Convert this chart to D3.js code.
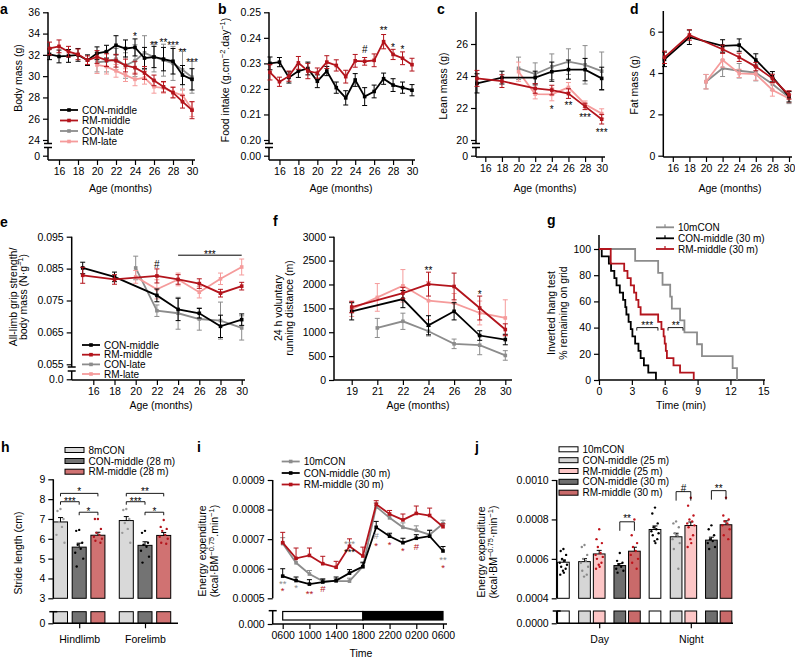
<!DOCTYPE html>
<html><head><meta charset="utf-8">
<script src="https://cdn.jsdelivr.net/npm/d3@7"></script>
<style>
body{margin:0;background:#fff;}
svg text{font-family:"Liberation Sans",Arial,Helvetica,sans-serif;fill:#000;}
</style></head><body>
<script>
// ================= DATA =================
// panel a – body mass (g)
const aMonthsMid = [15,16,17,18,19,20,21,22,23,24,25,26,27,28,29,30];
const aMonthsLate = [20,21,22,23,24,25,26,27,28,29,30];
const aConMid    = [32.05,31.85,31.9,32.0,31.5,32.15,32.3,32.9,32.6,32.7,31.7,31.8,31.6,31.4,30.1,29.7];
const aConMidErr = [0.5,0.6,0.6,0.6,0.5,0.6,0.6,0.9,0.8,0.8,1.0,1.0,1.1,1.2,0.9,1.0];
const aRmMid     = [32.6,32.8,32.3,32.05,31.5,31.8,31.5,31.45,31.0,30.8,30.3,29.6,29.0,28.45,27.6,26.8];
const aRmMidErr  = [0.6,0.6,0.5,0.5,0.4,0.6,0.6,0.6,0.6,0.6,0.6,0.5,0.5,0.5,0.6,0.8];
const aConLate   = [31.3,31.4,31.6,31.0,31.45,32.2,31.8,31.5,31.2,30.6,29.9];
const aConLateErr= [0.9,1.0,1.0,1.2,1.5,1.6,1.4,1.5,1.6,1.9,1.5];
const aRmLate    = [31.05,30.9,30.5,30.1,29.7,29.85,29.0,28.9,28.5,28.2,26.9];
const aRmLateErr = [0.8,0.7,0.6,0.6,0.6,0.6,0.6,0.5,0.5,0.6,0.7];
const aTicksY = [24,26,28,30,32,34,36];
const ageTicks = [16,18,20,22,24,26,28,30];
const aStars = [{m:24,v:34.0,s:"*"},{m:26,v:33.15,s:"**"},{m:27,v:33.4,s:"**"},{m:28,v:33.15,s:"***"},{m:29,v:32.45,s:"**"},{m:30,v:31.5,s:"***"}];
const legendLines = ["CON-middle","RM-middle","CON-late","RM-late"];

// panel b – food intake
const bMonths = [15,16,17,18,19,20,21,22,23,24,25,26,27,28,29,30];
const bConMid    = [0.2300,0.2305,0.2245,0.2270,0.2280,0.2230,0.2270,0.2205,0.2165,0.2235,0.2170,0.2190,0.2240,0.2215,0.2205,0.2195];
const bConMidErr = [0.0025,0.0018,0.0022,0.0025,0.0025,0.0025,0.0018,0.0022,0.0028,0.0025,0.0035,0.0025,0.0022,0.0025,0.0022,0.0022];
const bRmMid     = [0.2265,0.2228,0.2250,0.2302,0.2270,0.2262,0.2305,0.2292,0.2248,0.2310,0.2308,0.2312,0.2385,0.2335,0.2320,0.2295];
const bRmMidErr  = [0.0030,0.0018,0.0020,0.0025,0.0030,0.0020,0.0025,0.0022,0.0025,0.0025,0.0015,0.0025,0.0028,0.0020,0.0025,0.0025];
const bTicksY = [0.20,0.21,0.22,0.23,0.24,0.25];
const bStars = [{m:25,v:0.2355,s:"#"},{m:27,v:0.2437,s:"**"},{m:28,v:0.2372,s:"*"},{m:29,v:0.2365,s:"*"}];

// panel c – lean mass
const cMonthsMid = [15,18,22,24,26,28,30];
const cMonthsLate = [20,22,24,26,28,30];
const cConMid = [23.54,23.9,23.9,24.27,24.4,24.4,23.85];
const cConMidErr = [0.6,0.4,0.4,0.6,0.6,0.7,0.7];
const cRmMid = [23.85,23.68,23.22,23.12,22.9,22.1,21.3];
const cRmMidErr = [0.5,0.4,0.3,0.3,0.3,0.2,0.3];
const cConLate = [24.48,24.12,24.58,24.9,24.7,24.3];
const cConLateErr = [0.7,0.7,0.8,0.8,1.2,1.2];
const cRmLate = [24.27,22.87,22.85,23.29,22.24,21.65];
const cRmLateErr = [0.6,0.3,0.4,0.3,0.2,0.3];
const cTicksY = [20,22,24,26];
const cStars = [{m:24,v:22.08,s:"*"},{m:26,v:22.33,s:"**"},{m:28,v:21.56,s:"***"},{m:30,v:20.6,s:"***"}];

// panel d – fat mass
const dMonthsMid = [15,18,22,24,26,28,30];
const dMonthsLate = [20,22,24,26,28,30];
const dConMid = [4.66,5.73,5.31,5.35,4.63,3.82,2.85];
const dConMidErr = [0.35,0.35,0.3,0.3,0.3,0.25,0.25];
const dRmMid = [4.76,5.84,5.15,4.76,4.31,3.74,2.94];
const dRmMidErr = [0.3,0.25,0.2,0.2,0.2,0.2,0.2];
const dConLate = [3.58,4.23,4.11,4.02,3.47,2.82];
const dConLateErr = [0.35,0.4,0.35,0.4,0.3,0.3];
const dRmLate = [3.58,4.63,3.98,3.95,3.18,2.77];
const dRmLateErr = [0.35,0.35,0.2,0.3,0.3,0.2];
const dTicksY = [0,2,4,6];

// panel e – grip strength
const eMonthsMid = [15,18,22,24,26,28,30];
const eMonthsLate = [20,22,24,26,28,30];
const eConMid = [0.0852,0.0824,0.0766,0.0722,0.0710,0.0669,0.0690];
const eConMidErr = [0.0018,0.0015,0.0020,0.0035,0.0015,0.0035,0.0018];
const eRmMid = [0.0829,0.0816,0.0827,0.0816,0.0803,0.0773,0.0795];
const eRmMidErr = [0.0025,0.0015,0.0022,0.0015,0.0015,0.0012,0.0012];
const eConLate = [0.0852,0.0718,0.0710,0.0692,0.0687,0.0664];
const eConLateErr = [0.0037,0.0018,0.0050,0.0035,0.0058,0.0038];
const eRmLate = [0.0824,0.0785,0.0816,0.0776,0.0818,0.0855];
const eRmLateErr = [0.0020,0.0030,0.0020,0.0018,0.0018,0.0025];
const eTicksY = [0.055,0.065,0.075,0.085,0.095];

// panel f – running distance
const fCats = ["19","21","22","24","26","28","30"];
const fRmMidX = ["19","22","24","26","28","30"];
const fRmMid = [1528,1819,2007,1958,1507,1056];
const fRmMidErr = [120,120,250,280,250,120];
const fConMidX = ["19","22","24","26","28","30"];
const fConMid = [1438,1694,1146,1438,931,847];
const fConMidErr = [180,180,200,180,100,110];
const fConLateX = ["21","22","24","26","28","30"];
const fConLate = [1090,1229,1021,757,729,514];
const fConLateErr = [200,170,100,100,200,100];
const fRmLateX = ["19","21","22","24","26","28","30"];
const fRmLate = [1480,1729,1972,1660,1611,1403,1299];
const fRmLateErr = [150,290,340,400,200,250,380];
const fTicksY = [0,500,1000,1500,2000,2500,3000];
const fStars = [{c:"24",v:2340,s:"**"},{c:"28",v:1840,s:"*"}];

// panel g – inverted hang test (time of each fall, min)
const gYoungFalls = [3.3,5.4,5.8,6.5,6.65,7.4,7.8,8.95,9.4,12.2,12.6];
const gConMidFalls = [0.25,0.9,1.1,1.4,1.6,1.9,2.2,2.4,2.5,2.7,2.9,3.05,3.3,3.6,3.8,4.1,4.5,5.2];
const gRmMidFalls = [1.07,1.07,2.3,2.6,2.9,3.2,3.4,3.6,3.8,5.4,5.7,5.9,6.0,6.1,6.2,6.8,7.4,8.65];
const gTicksX = [0,3,6,9,12,15];
const gTicksY = [0,20,40,60,80,100];
const gLegend = ["10mCON","CON-middle (30 m)","RM-middle (30 m)"];

// panel h – stride length (cm)
const hGroups = ["Hindlimb","Forelimb"];
const hSeries = ["8mCON","CON-middle (28 m)","RM-middle (28 m)"];
const hMeans = [[6.85,5.58,6.18],[6.92,5.67,6.17]];
const hErr = [[0.22,0.2,0.15],[0.2,0.18,0.15]];
const hDots = [
  [[7.5,7.4,7.0,6.85,6.6,6.2,5.8],[6.45,6.4,5.8,5.7,5.5,5.3,5.0,4.6],[7.0,7.0,6.5,6.3,6.2,6.1,6.0,5.9,5.8]],
  [[7.5,7.45,7.0,6.8,6.5,6.3,5.8],[6.4,6.3,5.8,5.7,5.6,5.4,5.1,4.8],[6.95,6.6,6.5,6.4,6.2,6.1,6.0,5.8,5.75]]
];
const hTicksY = [3,4,5,6,7,8,9];

// panel i – energy expenditure over 24 h
const iHours = [0,2,4,6,8,10,12,14,16,18,20,22,24];
const iTickHours = [0,4,8,12,16,20,24];
const iTickLabels = ["0600","1000","1400","1800","2200","0200","0600"];
const iYoung  = [0.000685,0.000620,0.000582,0.000558,0.000558,0.000558,0.000607,0.000810,0.000772,0.000740,0.000730,0.000715,0.000752];
const iYoungErr=[0.000020,0.000015,0.000012,0.000008,0.000008,0.000010,0.000012,0.000012,0.000010,0.000015,0.000015,0.000015,0.000012];
const iConMid = [0.000575,0.000560,0.000548,0.000555,0.000560,0.000585,0.000607,0.000740,0.000710,0.000688,0.000703,0.000710,0.000660];
const iConMidErr=[0.000025,0.000012,0.000015,0.000010,0.000012,0.000012,0.000015,0.000020,0.000010,0.000015,0.000012,0.000020,0.000015];
const iRmMid  = [0.000688,0.000635,0.000645,0.000617,0.000605,0.000676,0.000643,0.000818,0.000785,0.000765,0.000787,0.000780,0.000742];
const iRmMidErr=[0.000035,0.000035,0.000025,0.000025,0.000020,0.000025,0.000030,0.000012,0.000012,0.000020,0.000025,0.000025,0.000010];
const iStars = [
  {h:0,v:0.000558,s:"**",c:"gray"},{h:0,v:0.000536,s:"*",c:"red"},{h:2,v:0.000545,s:"*",c:"gray"},
  {h:4,v:0.000526,s:"**",c:"red"},{h:6,v:0.000534,s:"#",c:"red"},
  {h:10,v:0.000695,s:"***",c:"gray"},{h:10,v:0.000668,s:"***",c:"black"},
  {h:14,v:0.000714,s:"#",c:"gray"},{h:14,v:0.000688,s:"*",c:"red"},{h:16,v:0.000692,s:"*",c:"red"},
  {h:18,v:0.000669,s:"*",c:"red"},{h:20,v:0.000677,s:"#",c:"red"},
  {h:24,v:0.000638,s:"**",c:"gray"},{h:24,v:0.000614,s:"*",c:"red"}];

// panel j – day / night energy expenditure
const jGroups = ["Day","Night"];
const jSeries = ["10mCON","CON-middle (25 m)","RM-middle (25 m)","CON-middle (30 m)","RM-middle (30 m)"];
const jMeans = [[0.000583,0.000586,0.000625,0.000566,0.000639],[0.000749,0.000712,0.000769,0.000695,0.000773]];
const jErr = [[0.000012,0.000015,0.000018,0.000010,0.000020],[0.000018,0.000018,0.000018,0.000015,0.000020]];
const jDots = [
  [[0.00065,0.00064,0.00062,0.0006,0.00059,0.00058,0.00057,0.00056,0.00055,0.00054,0.00053,0.00052],
   [0.00067,0.00066,0.00062,0.0006,0.00059,0.00058,0.00056,0.00054,0.00052,0.00051],
   [0.00075,0.0007,0.00068,0.00066,0.00063,0.00062,0.00061,0.0006,0.00058,0.00057,0.00056,0.00055],
   [0.00063,0.00059,0.00058,0.00057,0.00056,0.00055,0.00054,0.00053],
   [0.0008,0.00072,0.00068,0.00066,0.00064,0.00062,0.0006,0.00058,0.00055]],
  [[0.00086,0.00083,0.00078,0.00076,0.00075,0.00074,0.00073,0.00072,0.0007,0.00069,0.00068],
   [0.00079,0.00078,0.00076,0.00073,0.00072,0.0007,0.00068,0.00065,0.00055],
   [0.00091,0.00087,0.00082,0.0008,0.00079,0.00078,0.00077,0.00076,0.00072,0.0007,0.00068,0.00066],
   [0.00077,0.00075,0.00072,0.0007,0.00069,0.00068,0.00066,0.00065],
   [0.00091,0.00082,0.0008,0.00079,0.00078,0.00077,0.00075,0.00072,0.0007]]
];
const jTicksY = [0.0004,0.0006,0.0008,0.0010];

// ================= STYLE / HELPERS =================
const COL = {black:"#000000", red:"#b3141c", gray:"#8c8c8c", pink:"#f59b9b"};
const TFS = 10.5;
const svg = d3.select("body").append("svg").attr("width",795).attr("height",658).style("display","block");

function styleAxis(g){
  g.select(".domain").remove();
  g.selectAll(".tick line").attr("stroke","#000").attr("stroke-width",1.2);
  g.selectAll(".tick text").attr("font-size",TFS);
}
function ln(x1,y1,x2,y2,col="#000",w=1.5){
  return svg.append("line").attr("x1",x1).attr("y1",y1).attr("x2",x2).attr("y2",y2).attr("stroke",col).attr("stroke-width",w);
}
function yAxis(x, scale, ticks, fmt){
  const g = svg.append("g").attr("transform",`translate(${x},0)`)
    .call(d3.axisLeft(scale).tickValues(ticks).tickFormat(fmt).tickSize(5).tickPadding(3));
  styleAxis(g); return g;
}
function xAxis(y, scale, ticks, fmt){
  const g = svg.append("g").attr("transform",`translate(0,${y})`)
    .call(d3.axisBottom(scale).tickValues(ticks).tickFormat(fmt).tickSize(5).tickPadding(3));
  styleAxis(g); return g;
}
function label(x,y,s){ svg.append("text").attr("x",x).attr("y",y).attr("font-size",14).attr("font-weight","bold").text(s); }
function text(x,y,s,fs=TFS,anchor="middle",col="#000"){
  return svg.append("text").attr("x",x).attr("y",y).attr("font-size",fs).attr("text-anchor",anchor).style("fill",col).text(s);
}
// rich text: parts = [[str, "sup"?],...]
function rich(t, parts){
  let shifted=false;
  parts.forEach(p=>{
    const ts=t.append("tspan").text(p[0]);
    if(p[1]==="sup"){ ts.attr("dy",-4).attr("font-size",7.5); shifted=true; }
    else if(shifted){ ts.attr("dy",4); shifted=false; }
  });
}
function yTitle(xc, yc, lines, fs=TFS){
  lines.forEach((parts,i)=>{
    const xx = xc[i] + fs*0.35;
    const t = svg.append("text").attr("transform",`translate(${xx},${yc}) rotate(-90)`)
      .attr("text-anchor","middle").attr("font-size",fs);
    rich(t, typeof parts==="string" ? [[parts]] : parts);
  });
}
function star(x, yc, s, col="#000", fs=10){
  const off = s.startsWith("#") ? 3.6 : 6;
  text(x, yc+off, s, fs, "middle", col);
}
function series(xS, yS, xs, ys, es, col, opt={}){
  const g = svg.append("g");
  const pts = xs.map((x,i)=>({x:xS(x), y:yS(ys[i]), hi:yS(ys[i]+es[i]), lo:yS(opt.up?ys[i]:ys[i]-es[i])}));
  g.selectAll("line.eb").data(pts).join("line").attr("x1",d=>d.x).attr("x2",d=>d.x).attr("y1",d=>d.lo).attr("y2",d=>d.hi)
    .attr("stroke",col).attr("stroke-width",1);
  g.selectAll("line.ct").data(pts).join("line").attr("x1",d=>d.x-2.5).attr("x2",d=>d.x+2.5).attr("y1",d=>d.hi).attr("y2",d=>d.hi)
    .attr("stroke",col).attr("stroke-width",1);
  if(!opt.up) g.selectAll("line.cb").data(pts).join("line").attr("x1",d=>d.x-2.5).attr("x2",d=>d.x+2.5).attr("y1",d=>d.lo).attr("y2",d=>d.lo)
    .attr("stroke",col).attr("stroke-width",1);
  g.append("path").attr("d", d3.line()(pts.map(d=>[d.x,d.y]))).attr("fill","none").attr("stroke",col).attr("stroke-width",opt.lw||1.8);
  const m = opt.m||3.6;
  g.selectAll("rect").data(pts).join("rect").attr("x",d=>d.x-m/2).attr("y",d=>d.y-m/2).attr("width",m).attr("height",m).attr("fill",col);
}
function lineLegend(x, ys, labels, cols, marker="square", fs=10){
  labels.forEach((lab,i)=>{
    const y=ys[i];
    ln(x,y,x+18,y,cols[i],1.8);
    if(marker==="tick") ln(x+9,y-3,x+9,y,cols[i],1.2);
    else svg.append("rect").attr("x",x+7.2).attr("y",y-1.8).attr("width",3.6).attr("height",3.6).attr("fill",cols[i]);
    text(x+22,y+3.6,lab,fs,"start");
  });
}
function boxLegend(x, ys, labels, fills, fs=10){
  labels.forEach((lab,i)=>{
    svg.append("rect").attr("x",x).attr("y",ys[i]-2.5).attr("width",19).attr("height",5).attr("fill",fills[i]).attr("stroke","#000").attr("stroke-width",1);
    text(x+23.5,ys[i]+3.6,lab,fs,"start");
  });
}
function bracket(x1,x2,y,drop1,drop2,s,col="#000"){
  ln(x1,y+drop1,x1,y,col,0.9); ln(x1,y,x2,y,col,0.9); ln(x2,y,x2,y+drop2,col,0.9);
}
const JIT = [0,-3,3,-1.5,1.5,-4,4,-2.5,2.5,-0.5,0.5,-3.5,3.5];

// ================= PANEL a =================
{
  const x = d3.scaleLinear().domain([15,30]).range([49.5,192]);
  const y = d3.scaleLinear().domain([24,36]).range([140,12.3]);
  const y0 = d3.scaleLinear().domain([0,24]).range([155.7,140]);
  const AX=48, XY=160;
  yAxis(AX,y,aTicksY,d3.format("d")); yAxis(AX,y0,[0],d3.format("d"));
  ln(AX,12.3,AX,143.5); ln(AX,147.5,AX,XY); ln(AX-4,143.5,AX+4,143.5); ln(AX-4,147.5,AX+4,147.5);
  xAxis(XY,x,ageTicks,d3.format("d")); ln(AX,XY,195,XY);
  series(x,y,aMonthsLate,aConLate,aConLateErr,COL.gray);
  series(x,y,aMonthsLate,aRmLate,aRmLateErr,COL.pink);
  series(x,y,aMonthsMid,aConMid,aConMidErr,COL.black);
  series(x,y,aMonthsMid,aRmMid,aRmMidErr,COL.red);
  aStars.forEach(d=>star(x(d.m),y(d.v),d.s));
  lineLegend(60,[110,120.5,131,141.5],legendLines,[COL.black,COL.red,COL.gray,COL.pink]);
  yTitle([18.3],78,["Body mass (g)"]);
  text(120.5,192,"Age (months)");
  label(0,14,"a");
}
// ================= PANEL b =================
{
  const x = d3.scaleLinear().domain([15,30]).range([270,412]);
  const y = d3.scaleLinear().domain([0.20,0.25]).range([140,12.3]);
  const y0 = d3.scaleLinear().domain([0,0.2]).range([155.7,140]);
  const AX=269, XY=160;
  yAxis(AX,y,bTicksY,d3.format(".2f")); yAxis(AX,y0,[0],d3.format(".2f"));
  ln(AX,12.3,AX,143.5); ln(AX,147.5,AX,XY); ln(AX-4,143.5,AX+4,143.5); ln(AX-4,147.5,AX+4,147.5);
  xAxis(XY,x,ageTicks,d3.format("d")); ln(AX,XY,415,XY);
  series(x,y,bMonths,bConMid,bConMidErr,COL.black);
  series(x,y,bMonths,bRmMid,bRmMidErr,COL.red);
  bStars.forEach(d=>star(x(d.m),y(d.v),d.s));
  yTitle([225],80,[[["Food intake (g.cm"],["−2","sup"],[".day"],["−1","sup"],[")"]]]);
  text(341,192,"Age (months)");
  label(218,14,"b");
}
// ================= PANEL c =================
{
  const x = d3.scaleLinear().domain([15,30]).range([477,601.7]);
  const y = d3.scaleLinear().domain([20,28]).range([140,12]);
  const y0 = d3.scaleLinear().domain([0,20]).range([155.7,140]);
  const AX=476, XY=157;
  yAxis(AX,y,cTicksY,d3.format("d")); yAxis(AX,y0,[0],d3.format("d"));
  ln(AX,12,AX,143.5); ln(AX,147.5,AX,XY); ln(AX-4,143.5,AX+4,143.5); ln(AX-4,147.5,AX+4,147.5);
  xAxis(XY,x,ageTicks,d3.format("d")); ln(AX,XY,605,XY);
  series(x,y,cMonthsLate,cConLate,cConLateErr,COL.gray);
  series(x,y,cMonthsLate,cRmLate,cRmLateErr,COL.pink);
  series(x,y,cMonthsMid,cConMid,cConMidErr,COL.black);
  series(x,y,cMonthsMid,cRmMid,cRmMidErr,COL.red);
  cStars.forEach(d=>star(x(d.m),y(d.v),d.s));
  yTitle([443.3],86,["Lean mass (g)"]);
  text(545,192,"Age (months)");
  label(437,14,"c");
}
// ================= PANEL d =================
{
  const x = d3.scaleLinear().domain([15,30]).range([664.5,789]);
  const y = d3.scaleLinear().domain([0,7]).range([155.7,11]);
  const AX=663.3, XY=157;
  yAxis(AX,y,dTicksY,d3.format("d"));
  ln(AX,11,AX,XY);
  xAxis(XY,x,ageTicks,d3.format("d")); ln(AX,XY,792,XY);
  series(x,y,dMonthsLate,dConLate,dConLateErr,COL.gray);
  series(x,y,dMonthsLate,dRmLate,dRmLateErr,COL.pink);
  series(x,y,dMonthsMid,dConMid,dConMidErr,COL.black);
  series(x,y,dMonthsMid,dRmMid,dRmMidErr,COL.red);
  yTitle([634.3],85,["Fat mass (g)"]);
  text(730,192,"Age (months)");
  label(630,14,"d");
}
// ================= PANEL e =================
{
  const x = d3.scaleLinear().domain([14,30]).range([72.1,241.7]);
  const y = d3.scaleLinear().domain([0.055,0.095]).range([364.3,236.7]);
  const y0 = d3.scaleLinear().domain([0,0.055]).range([379.3,364.3]);
  const AX=71.7, XY=380;
  yAxis(AX,y,eTicksY,d3.format(".3f")); yAxis(AX,y0,[0],d3.format(".1f"));
  ln(AX,236.7,AX,367); ln(AX,371,AX,XY); ln(AX-4,367,AX+4,367); ln(AX-4,371,AX+4,371);
  xAxis(XY,x,ageTicks,d3.format("d")); ln(AX,XY,245,XY);
  series(x,y,eMonthsLate,eConLate,eConLateErr,COL.gray);
  series(x,y,eMonthsLate,eRmLate,eRmLateErr,COL.pink);
  series(x,y,eMonthsMid,eConMid,eConMidErr,COL.black);
  series(x,y,eMonthsMid,eRmMid,eRmMidErr,COL.red);
  star(x(22),y(0.0863),"#");
  ln(x(24),y(0.0892),x(30),y(0.0892),"#000",1);
  star(x(27),y(0.0903),"***");
  lineLegend(82,[345,354.7,364.4,374],legendLines,[COL.black,COL.red,COL.gray,COL.pink]);
  yTitle([13.3,23.3],297,["All-limb grip strength/",[["body mass (N·g"],["−1","sup"],[")"]]]);
  text(161,409,"Age (months)");
  label(0,227,"e");
}
// ================= PANEL f =================
{
  const x = d3.scalePoint().domain(fCats).range([351.7,505.3]);
  const y = d3.scaleLinear().domain([0,3000]).range([380,236.7]);
  const AX=334, XY=380;
  yAxis(AX,y,fTicksY,d3.format("d"));
  ln(AX,236.7,AX,XY);
  xAxis(XY,x,fCats,d=>d); ln(AX,XY,512,XY);
  series(x,y,fConLateX,fConLate,fConLateErr,COL.gray);
  series(x,y,fRmLateX,fRmLate,fRmLateErr,COL.pink);
  series(x,y,fConMidX,fConMid,fConMidErr,COL.black);
  series(x,y,fRmMidX,fRmMid,fRmMidErr,COL.red);
  fStars.forEach(d=>star(x(d.c),y(d.v),d.s));
  yTitle([278.3,289],308,["24 h voluntary","running distance (m)"]);
  text(418,409,"Age (months)");
  label(273,226,"f");
}
// ================= PANEL g =================
{
  const x = d3.scaleLinear().domain([0,15]).range([599,763.3]);
  const y = d3.scaleLinear().domain([0,100]).range([380,249]);
  const AX=599, XY=380;
  yAxis(AX,y,gTicksY,d3.format("d"));
  ln(AX,235,AX,XY);
  xAxis(XY,x,gTicksX,d3.format("d")); ln(AX,XY,765,XY);
  const curve = (falls)=>{ const n=falls.length; const pts=[[0,100]]; falls.forEach((t,i)=>pts.push([t,100*(n-i-1)/n])); return pts; };
  const line = d3.line().x(d=>x(d[0])).y(d=>y(d[1])).curve(d3.curveStepAfter);
  [[gYoungFalls,COL.gray],[gConMidFalls,COL.black],[gRmMidFalls,COL.red]].forEach(([f,c])=>{
    svg.append("path").attr("d",line(curve(f))).attr("fill","none").attr("stroke",c).attr("stroke-width",1.8);
  });
  bracket(x(3.45),x(5.38),y(40),3,3); star(x(4.4),y(43.5),"***");
  bracket(x(6.3),x(7.67),y(40),3,3); star(x(7.0),y(43.5),"**");
  lineLegend(656,[227.3,238.3,249],gLegend,[COL.gray,COL.black,COL.red],"tick");
  yTitle([551.7,563.3],313,["Inverted hang test","% remaining on grid"]);
  text(681,409,"Time (min)");
  label(547,225,"g");
}
// ================= PANEL h =================
{
  const xg = d3.scalePoint().domain(hGroups).range([79.2,145]);
  const xs = d3.scaleBand().domain(hSeries).range([-30.4,30.4]).paddingInner(0.25).paddingOuter(0.25);
  const y = d3.scaleLinear().domain([3,9]).range([598.3,479.3]);
  const y0 = d3.scaleLinear().domain([0,3]).range([623.3,611.7]);
  const AX=53.3, XY=623.3, BOT=598.3, LTOP=611.7;
  const fills=["#d9d9d9","#737373","#d07272"], dotc=["#9a9a9a","#000","#b3141c"];
  hGroups.forEach((gname,gi)=>{
    hSeries.forEach((sname,si)=>{
      const bx = xg(gname)+xs(sname), bw=xs.bandwidth(), cx=bx+bw/2;
      svg.append("rect").attr("x",bx).attr("y",y(hMeans[gi][si])).attr("width",bw).attr("height",BOT-y(hMeans[gi][si])).attr("fill",fills[si]).attr("stroke","#000").attr("stroke-width",1);
      svg.append("rect").attr("x",bx).attr("y",LTOP).attr("width",bw).attr("height",XY-LTOP).attr("fill",fills[si]).attr("stroke","#000").attr("stroke-width",1);
      const top=y(hMeans[gi][si]+hErr[gi][si]);
      ln(cx,y(hMeans[gi][si]),cx,top,"#000",1); ln(cx-2.5,top,cx+2.5,top,"#000",1);
      hDots[gi][si].forEach((v,k)=>svg.append("circle").attr("cx",cx+JIT[k%JIT.length]).attr("cy",y(v)).attr("r",1.2).attr("fill",dotc[si]));
    });
    const c = i=>xg(gname)+xs(hSeries[i])+xs.bandwidth()/2;
    bracket(c(0),c(2),y(8.29),3,3); star((c(0)+c(2))/2,y(8.5),gi===0?"*":"**");
    bracket(c(0),c(1),y(7.87),3,3); star((c(0)+c(1))/2,y(8.03),"***");
    bracket(c(1),c(2),y(7.34),3,3); star((c(1)+c(2))/2,y(7.5),"*");
  });
  yAxis(AX,y,hTicksY,d3.format("d")); yAxis(AX,y0,[0],d3.format("d"));
  ln(AX,479.3,AX,BOT); ln(AX,LTOP,AX,XY); ln(AX-4,LTOP,AX+4,LTOP);
  const gx = xAxis(XY,xg,hGroups,d=>d); ln(AX,XY,178,XY);
  gx.selectAll(".tick text").attr("dy","1.1em");
  boxLegend(65,[450,461,471.7],hSeries,fills);
  yTitle([18.3],553,["Stride length (cm)"]);
  label(1,452,"h");
}
// ================= PANEL i =================
{
  const x = d3.scaleLinear().domain([0,24]).range([282.7,443]);
  const y = d3.scaleLinear().domain([0.0005,0.0009]).range([598.3,480]);
  const y0 = d3.scaleLinear().domain([0,0.0005]).range([624,610.7]);
  const AX=272.7, XY=624;
  yAxis(AX,y,[0.0005,0.0006,0.0007,0.0008,0.0009],d3.format(".4f")); yAxis(AX,y0,[0],d3.format(".3f"));
  ln(AX,480,AX,598.3); ln(AX,610.7,AX,XY); ln(AX-4,610.7,AX+4,610.7);
  const gx = xAxis(XY,x,iTickHours,(d,i)=>iTickLabels[i]); ln(AX,XY,447,XY);
  svg.append("rect").attr("x",x(0)).attr("y",611.5).attr("width",x(12)-x(0)).attr("height",8.5).attr("fill","#fff").attr("stroke","#000").attr("stroke-width",1.2);
  svg.append("rect").attr("x",x(12)).attr("y",611.5).attr("width",x(24)-x(12)).attr("height",8.5).attr("fill","#000").attr("stroke","#000").attr("stroke-width",1.2);
  series(x,y,iHours,iYoung,iYoungErr,COL.gray,{up:true});
  series(x,y,iHours,iConMid,iConMidErr,COL.black,{up:true});
  series(x,y,iHours,iRmMid,iRmMidErr,COL.red,{up:true});
  const sc={gray:COL.gray,red:COL.red,black:"#000"};
  iStars.forEach(d=>star(x(d.h),y(d.v),d.s,sc[d.c],9.5));
  lineLegend(281.7,[461.5,473,484.5],gLegend,[COL.gray,COL.black,COL.red]);
  yTitle([202,214],551,["Energy expenditure",[["(kcal·BM"],["−0.75","sup"],[".min"],["−1","sup"],[")"]]]);
  text(361,657,"Time");
  label(197,452,"i");
}
// ================= PANEL j =================
{
  const xg = d3.scalePoint().domain(jGroups).range([599.2,690.8]);
  const off = d3.scaleOrdinal().domain(jSeries).range([-35.8,-14.7,0,20.6,35.2]);
  const bw = 11.7;
  const y = d3.scaleLinear().domain([0.0004,0.0010]).range([598.3,480]);
  const y0 = d3.scaleLinear().domain([0,0.0004]).range([623.3,611]);
  const AX=556.7, XY=623.3, BOT=598.3, LTOP=611;
  const fills=["#ffffff","#d6d6d6","#fcc6c6","#6e6e6e","#c96a6a"], dotc=["#000","#8a8a8a","#c0141c","#000","#c0141c"];
  jGroups.forEach((gname,gi)=>{
    jSeries.forEach((sname,si)=>{
      const cx = xg(gname)+off(sname), bx=cx-bw/2, v=jMeans[gi][si];
      svg.append("rect").attr("x",bx).attr("y",y(v)).attr("width",bw).attr("height",BOT-y(v)).attr("fill",fills[si]).attr("stroke","#000").attr("stroke-width",1);
      svg.append("rect").attr("x",bx).attr("y",LTOP).attr("width",bw).attr("height",XY-LTOP).attr("fill",fills[si]).attr("stroke","#000").attr("stroke-width",1);
      const top=y(v+jErr[gi][si]);
      ln(cx,y(v),cx,top,"#000",1); ln(cx-2.5,top,cx+2.5,top,"#000",1);
      jDots[gi][si].forEach((d,k)=>svg.append("circle").attr("cx",cx+JIT[k%JIT.length]*0.9).attr("cy",y(d)).attr("r",1.2).attr("fill",dotc[si]));
    });
  });
  const c=(g,s)=>xg(g)+off(s);
  bracket(c("Day",jSeries[3]),c("Day",jSeries[4]),y(0.000788),9,9); star((c("Day",jSeries[3])+c("Day",jSeries[4]))/2,y(0.000815),"**");
  bracket(c("Night",jSeries[1]),c("Night",jSeries[2]),y(0.000941),9,9); star((c("Night",jSeries[1])+c("Night",jSeries[2]))/2,y(0.000958),"#");
  bracket(c("Night",jSeries[3]),c("Night",jSeries[4]),y(0.000946),9,9); star((c("Night",jSeries[3])+c("Night",jSeries[4]))/2,y(0.000968),"**");
  yAxis(AX,y,jTicksY,d3.format(".4f")); yAxis(AX,y0,[0],d3.format(".4f"));
  ln(AX,480,AX,BOT); ln(AX,LTOP,AX,XY); ln(AX-4,LTOP,AX+4,LTOP);
  const gx = xAxis(XY,xg,jGroups,d=>d); ln(AX,XY,733,XY);
  gx.selectAll(".tick text").attr("dy","1.1em");
  boxLegend(559,[449.3,460.2,471,481.8,492.7],jSeries,fills);
  yTitle([481.7,493.3],552,["Energy expenditure",[["(kcal·BM"],["−0.75","sup"],["·min"],["−1","sup"],[")"]]]);
  label(475,452,"j");
}
</script>
</body></html>
